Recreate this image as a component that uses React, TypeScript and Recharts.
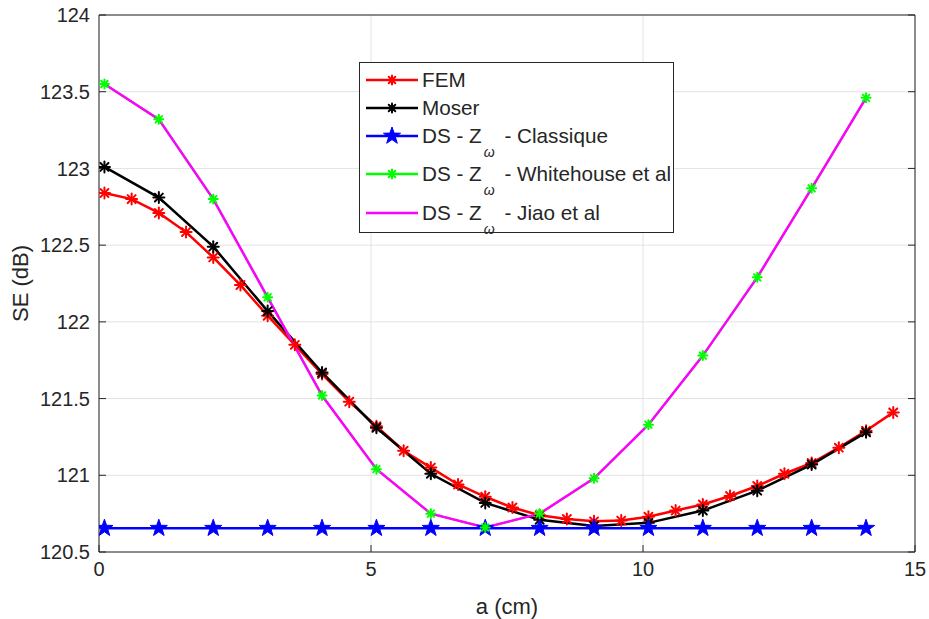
import { CartesianGrid, Line, LineChart, XAxis, YAxis } from "recharts";

const femA = [
  0.1, 0.6, 1.1, 1.6, 2.1, 2.6, 3.1, 3.6, 4.1, 4.6, 5.1, 5.6, 6.1, 6.6, 7.1,
  7.6, 8.1, 8.6, 9.1, 9.6, 10.1, 10.6, 11.1, 11.6, 12.1, 12.6, 13.1, 13.6, 14.1, 14.6,
];
const femSE = [
  122.84, 122.8, 122.71, 122.585, 122.42, 122.24, 122.04, 121.85, 121.66, 121.48,
  121.32, 121.16, 121.05, 120.94, 120.86, 120.79, 120.74, 120.715, 120.7, 120.705,
  120.73, 120.77, 120.81, 120.865, 120.93, 121.01, 121.08, 121.18, 121.29, 121.41,
];
const dsA = [0.1, 1.1, 2.1, 3.1, 4.1, 5.1, 6.1, 7.1, 8.1, 9.1, 10.1, 11.1, 12.1, 13.1, 14.1];
const moserSE = [
  123.01, 122.81, 122.49, 122.07, 121.67, 121.31, 121.01, 120.82, 120.71, 120.67,
  120.69, 120.77, 120.9, 121.07, 121.28,
];
const classiqueSE = [
  120.655, 120.655, 120.655, 120.655, 120.655, 120.655, 120.655, 120.655, 120.655,
  120.655, 120.655, 120.655, 120.655, 120.655, 120.655,
];
const whitehouseSE = [
  123.55, 123.32, 122.8, 122.16, 121.52, 121.04, 120.75, 120.66, 120.75, 120.98,
  121.33, 121.78, 122.29, 122.87, 123.46,
];
const jiaoSE = [
  123.55, 123.32, 122.8, 122.16, 121.52, 121.04, 120.75, 120.66, 120.75, 120.98,
  121.33, 121.78, 122.29, 122.87, 123.46,
];
const xTicks = [0, 5, 10, 15];
const yTicks = [120.5, 121, 121.5, 122, 122.5, 123, 123.5, 124];

const femData = femA.map((a, i) => ({ a, se: femSE[i] }));
const moserData = dsA.map((a, i) => ({ a, se: moserSE[i] }));
const classiqueData = dsA.map((a, i) => ({ a, se: classiqueSE[i] }));
const whitehouseData = dsA.map((a, i) => ({ a, se: whitehouseSE[i] }));
const jiaoData = dsA.map((a, i) => ({ a, se: jiaoSE[i] }));

const INK = "#262626";
const FONT = "'Liberation Sans', Arial, sans-serif";

function Asterisk({ cx, cy, color, r = 5 }: { cx: number; cy: number; color: string; r?: number }) {
  const d = r * 0.72;
  return (
    <g stroke={color} strokeWidth={2} strokeLinecap="round">
      <line x1={cx - r} y1={cy} x2={cx + r} y2={cy} />
      <line x1={cx} y1={cy - r} x2={cx} y2={cy + r} />
      <line x1={cx - d} y1={cy - d} x2={cx + d} y2={cy + d} />
      <line x1={cx - d} y1={cy + d} x2={cx + d} y2={cy - d} />
    </g>
  );
}

function Star({ cx, cy, color, r = 9 }: { cx: number; cy: number; color: string; r?: number }) {
  const pts: string[] = [];
  for (let k = 0; k < 10; k++) {
    const rad = k % 2 === 0 ? r : r * 0.4;
    const ang = -Math.PI / 2 + (k * Math.PI) / 5;
    pts.push(`${cx + rad * Math.cos(ang)},${cy + rad * Math.sin(ang)}`);
  }
  return <polygon points={pts.join(" ")} fill={color} stroke={color} strokeWidth={1} />;
}

const asteriskDot = (color: string, r = 5) => (p: any) =>
  p.cx == null ? <g key={p.key} /> : <Asterisk key={p.key} cx={p.cx} cy={p.cy} color={color} r={r} />;
const starDot = (color: string) => (p: any) =>
  p.cx == null ? <g key={p.key} /> : <Star key={p.key} cx={p.cx} cy={p.cy} color={color} />;

const noTick = () => <g />;

type Entry = { label: string; sub?: string; rest?: string; color: string; marker: "ast" | "star" | "none"; center: number };

const legendEntries: Entry[] = [
  { label: "FEM", color: "#ff0000", marker: "ast", center: 17 },
  { label: "Moser", color: "#000000", marker: "ast", center: 45 },
  { label: "DS - Z", sub: "ω", rest: " - Classique", color: "#0000ff", marker: "star", center: 73 },
  { label: "DS - Z", sub: "ω", rest: " - Whitehouse et al", color: "#00ff00", marker: "ast", center: 111 },
  { label: "DS - Z", sub: "ω", rest: " - Jiao et al", color: "#ff00ff", marker: "none", center: 150 },
];

function ChartLegend() {
  return (
    <div
      style={{
        position: "absolute",
        left: 359,
        top: 62,
        width: 315,
        height: 171,
        boxSizing: "border-box",
        border: `1px solid ${INK}`,
        background: "#fff",
        fontFamily: FONT,
        fontSize: 20.7,
        color: INK,
      }}
    >
      {legendEntries.map((e) => (
        <div key={e.label + (e.rest ?? "")} style={{ position: "absolute", left: 0, top: e.center - 15, height: 30, width: "100%" }}>
          <svg width={60} height={30} style={{ position: "absolute", left: 4, top: 0 }}>
            <line x1={2} y1={15} x2={54} y2={15} stroke={e.color} strokeWidth={2.5} />
            {e.marker === "ast" && <Asterisk cx={28} cy={15} color={e.color} r={4.5} />}
            {e.marker === "star" && <Star cx={28} cy={15} color={e.color} />}
          </svg>
          <div style={{ position: "absolute", left: 62, top: 0, lineHeight: "30px", whiteSpace: "nowrap" }}>
            {e.label}
            {e.sub && (
              <span style={{ position: "relative", top: 14, fontSize: 14, fontStyle: "italic", margin: "0 4px 0 2px" }}>{e.sub}</span>
            )}
            {e.rest}
          </div>
        </div>
      ))}
    </div>
  );
}

export default function App() {
  return (
    <div style={{ position: "absolute", left: 0, top: 0, width: 929, height: 619, background: "#fff", fontFamily: FONT }}>
      <LineChart width={929} height={619} margin={{ top: 14, right: 13, bottom: 0, left: 0 }}>
        <CartesianGrid stroke="#e3e3e3" strokeWidth={1} />
        <XAxis
          dataKey="a"
          type="number"
          domain={[0, 15]}
          ticks={xTicks}
          height={67}
          allowDataOverflow
          stroke={INK}
          tickSize={-7}
          tickMargin={17}
          tick={{ fill: INK, fontSize: 20 }}
          label={{
            content: (p: any) => (
              <text
                x={p.viewBox.x + p.viewBox.width / 2}
                y={p.viewBox.y + 54}
                textAnchor="middle"
                dominantBaseline="central"
                fill={INK}
                fontSize={22}
              >
                a (cm)
              </text>
            ),
          }}
        />
        <XAxis
          xAxisId="top"
          orientation="top"
          type="number"
          domain={[0, 15]}
          ticks={xTicks}
          height={1}
          allowDataOverflow
          stroke={INK}
          tickSize={-7}
          tick={noTick}
        />
        <YAxis
          type="number"
          domain={[120.5, 124]}
          ticks={yTicks}
          width={99}
          allowDataOverflow
          stroke={INK}
          tickSize={-7}
          tickMargin={16}
          tick={{ fill: INK, fontSize: 20 }}
          label={{
            content: (p: any) => {
              const x = p.viewBox.x + 20;
              const y = p.viewBox.y + p.viewBox.height / 2;
              return (
                <text
                  x={x}
                  y={y}
                  transform={`rotate(-90 ${x} ${y})`}
                  textAnchor="middle"
                  dominantBaseline="central"
                  fill={INK}
                  fontSize={22}
                >
                  SE (dB)
                </text>
              );
            },
          }}
        />
        <YAxis
          yAxisId="right"
          orientation="right"
          type="number"
          domain={[120.5, 124]}
          ticks={yTicks}
          width={1}
          allowDataOverflow
          stroke={INK}
          tickSize={-7}
          tick={noTick}
        />
        <Line
          data={femData}
          dataKey="se"
          name="FEM"
          stroke="#ff0000"
          strokeWidth={2.5}
          dot={asteriskDot("#ff0000", 5.5)}
          isAnimationActive={false}
        />
        <Line
          data={moserData}
          dataKey="se"
          name="Moser"
          stroke="#000000"
          strokeWidth={2.5}
          dot={asteriskDot("#000000", 5.5)}
          isAnimationActive={false}
        />
        <Line
          data={classiqueData}
          dataKey="se"
          name="Classique"
          stroke="#0000ff"
          strokeWidth={2.5}
          dot={starDot("#0000ff")}
          isAnimationActive={false}
        />
        <Line
          data={whitehouseData}
          dataKey="se"
          name="Whitehouse"
          stroke="#00ff00"
          strokeWidth={2}
          dot={false}
          isAnimationActive={false}
        />
        <Line
          data={jiaoData}
          dataKey="se"
          name="Jiao"
          stroke="#ff00ff"
          strokeWidth={2.5}
          dot={false}
          isAnimationActive={false}
        />
        <Line
          data={whitehouseData}
          dataKey="se"
          name="Whitehouse markers"
          stroke="none"
          legendType="none"
          dot={asteriskDot("#00ff00", 4.5)}
          isAnimationActive={false}
        />
      </LineChart>
      <ChartLegend />
    </div>
  );
}
